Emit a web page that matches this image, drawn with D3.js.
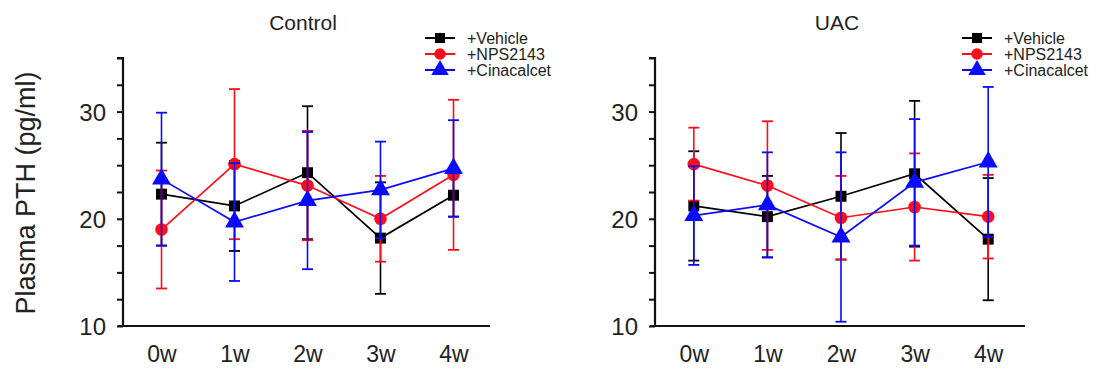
<!DOCTYPE html>
<html><head><meta charset="utf-8">
<script src="https://cdn.jsdelivr.net/npm/d3@7"></script>
<style>body{margin:0;background:#fff}svg{display:block}text{font-family:Arial,"Liberation Sans",sans-serif;fill:#222}</style>
</head><body><svg id="c" width="1101" height="387"></svg>
<script>
const weeks = ["0w","1w","2w","3w","4w"];
const seriesNames = ["+Vehicle","+NPS2143","+Cinacalcet"];
const panelTitles = ["Control","UAC"];
const yTicks = [10,20,30];
// Control panel
const ctrlVehicle = [22.3, 21.2, 24.3, 18.2, 22.2];
const ctrlVehicleErr = [4.8, 4.2, 6.2, 5.2, 2.0];
const ctrlNPS = [19.0, 25.1, 23.1, 20.0, 24.1];
const ctrlNPSErr = [5.5, 7.0, 5.1, 4.0, 7.0];
const ctrlCina = [23.7, 19.7, 21.7, 22.7, 24.7];
const ctrlCinaErr = [6.2, 5.5, 6.4, 4.5, 4.5];
// UAC panel
const uacVehicle = [21.2, 20.2, 22.1, 24.2, 18.1];
const uacVehicleErr = [5.1, 3.8, 5.9, 6.8, 5.7];
const uacNPS = [25.1, 23.1, 20.1, 21.1, 20.2];
const uacNPSErr = [3.4, 6.0, 3.9, 5.0, 3.9];
const uacCina = [20.3, 21.3, 18.3, 23.4, 25.3];
const uacCinaErr = [4.6, 4.9, 7.9, 5.9, 7.0];

const colors = ["#000000","#ff0d1a","#0a0aff"];
const shapes = [d3.symbolSquare, d3.symbolCircle, d3.symbolTriangle];
const sizes = [120, 125, 155];

const svg = d3.select("#c");
const panels = [
  {title: panelTitles[0], x0: 123, x1: 490, titleX: 303, legX: 425,
   data: [[ctrlVehicle, ctrlVehicleErr],[ctrlNPS, ctrlNPSErr],[ctrlCina, ctrlCinaErr]]},
  {title: panelTitles[1], x0: 655, x1: 1025, titleX: 837, legX: 962,
   data: [[uacVehicle, uacVehicleErr],[uacNPS, uacNPSErr],[uacCina, uacCinaErr]]}
];
const y = d3.scaleLinear().domain([10,35]).range([326,58]);

panels.forEach(p => {
  const g = svg.append("g");
  const x = d3.scaleLinear().domain([-0.5,4.5]).range([p.x0+2, p.x1]);
  const ya = d3.axisLeft(y).tickValues(d3.range(10,35.01,2.5)).tickSize(6)
    .tickFormat(d => yTicks.includes(d) ? d : "");
  const yg = g.append("g").attr("transform",`translate(${p.x0},0)`).call(ya);
  yg.select(".domain").attr("stroke","#111").attr("stroke-width",2.2).attr("d",`M-6,${y(35)}H0V${y(10)}`);
  yg.selectAll(".tick line").attr("stroke","#111").attr("stroke-width",2);
  yg.selectAll(".tick text").attr("font-size",24).attr("x",-17).attr("dy","0.36em").style("fill","#222");
  const xa = d3.axisBottom(x).tickValues(d3.range(5)).tickSize(0).tickFormat(i => weeks[i]);
  const xg = g.append("g").attr("transform",`translate(0,${y(10)})`).call(xa);
  xg.select(".domain").attr("stroke","#111").attr("stroke-width",2.2).attr("d",`M${p.x0-5},0H${p.x1}`);
  xg.selectAll(".tick text").attr("font-size",23).attr("y",36).attr("dy","0").style("fill","#222");
  g.append("text").attr("x",p.titleX).attr("y",30).attr("text-anchor","middle").attr("font-size",21).text(p.title);
  p.data.forEach((s, si) => {
    const [vals, errs] = s;
    const c = colors[si];
    const sg = g.append("g");
    vals.forEach((v,i) => {
      const cx = x(i);
      sg.append("line").attr("x1",cx).attr("x2",cx).attr("y1",y(v+errs[i])).attr("y2",y(v-errs[i]))
        .attr("stroke",c).attr("stroke-width",1.6);
      [v+errs[i], v-errs[i]].forEach(e => {
        sg.append("line").attr("x1",cx-5.5).attr("x2",cx+5.5).attr("y1",y(e)).attr("y2",y(e))
          .attr("stroke",c).attr("stroke-width",1.8);
      });
    });
    sg.append("path").datum(vals).attr("fill","none").attr("stroke",c).attr("stroke-width",1.7)
      .attr("d", d3.line().x((d,i)=>x(i)).y(d=>y(d)));
    sg.selectAll(".m").data(vals).join("path")
      .attr("transform",(d,i)=>`translate(${x(i)},${y(d)})`)
      .attr("d", d3.symbol().type(shapes[si]).size(sizes[si])).attr("fill",c);
  });
  seriesNames.forEach((n, si) => {
    const ly = 38 + si*16;
    const lg = g.append("g");
    lg.append("line").attr("x1",p.legX).attr("x2",p.legX+30).attr("y1",ly).attr("y2",ly)
      .attr("stroke",colors[si]).attr("stroke-width",2);
    lg.append("path").attr("transform",`translate(${p.legX+15},${ly})`)
      .attr("d", d3.symbol().type(shapes[si]).size(sizes[si]*0.85)).attr("fill",colors[si]);
    lg.append("text").attr("x",p.legX+42).attr("y",ly).attr("dy","0.35em").attr("font-size",16).text(n);
  });
});
svg.append("text").attr("transform","translate(35,193) rotate(-90)").attr("text-anchor","middle")
  .attr("font-size",27).text("Plasma PTH (pg/ml)");
</script></body></html>
